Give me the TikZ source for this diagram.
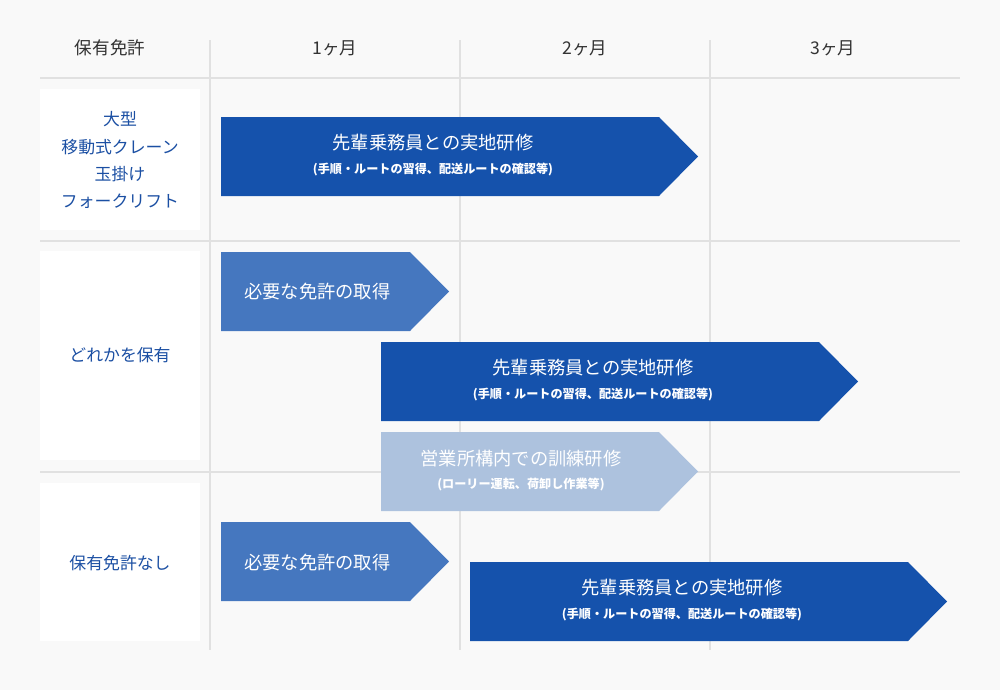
\documentclass[tikz,border=0pt]{standalone}
\usepackage{fontspec}
\setmainfont{Noto Sans CJK JP}
\definecolor{bgpaper}{HTML}{F9F9F9}
\definecolor{ruleline}{HTML}{E1E1E1}
\definecolor{navy}{HTML}{1552AC}
\definecolor{midblue}{HTML}{4577BF}
\definecolor{paleblue}{HTML}{ADC2DE}
\definecolor{labelblue}{HTML}{1B4FA3}
\definecolor{headgray}{HTML}{333333}
\tikzset{
  rule/.style={draw=ruleline, line width=0.6pt},
  licbox/.style={fill=white},
  headtext/.style={text=headgray, font=\fontsize{10}{12}\selectfont},
  lictext/.style={text=labelblue, align=center, font=\fontsize{9.6}{15.4}\selectfont},
  titletext/.style={text=white, font=\fontsize{10.4}{12}\selectfont},
  subtext/.style={text=white, font=\bfseries\fontsize{6.9}{8}\selectfont},
}
\begin{document}
\begin{tikzpicture}[x=0.02cm, y=-0.02cm]
            \fill[bgpaper] (0,0) rectangle (1000,690);
            \useasboundingbox (0,0) rectangle (1000,690);

            \draw[rule] (40,78) -- (960,78);
            \draw[rule] (40,241) -- (960,241);
            \draw[rule] (40,472) -- (960,472);
            \foreach \x in {210,460,710}
                \draw[rule] (\x,40) -- (\x,650);

            \node[headtext] (hlic) at (110,48) {保有免許};
            \node[headtext] (hm1) at (335,48) {1ヶ月};
            \node[headtext] (hm2) at (585,48) {2ヶ月};
            \node[headtext] (hm3) at (833,48) {3ヶ月};

            \fill[licbox] (40,89) rectangle (200,230);
            \fill[licbox] (40,251) rectangle (200,460);
            \fill[licbox] (40,483) rectangle (200,641);
            \node[lictext] (lic1) at (120,160) {大型\\移動式クレーン\\玉掛け\\フォークリフト};
            \node[lictext] (lic2) at (120,355) {どれかを保有};
            \node[lictext] (lic3) at (120,563) {保有免許なし};

            \fill[navy] (221,117) -- (659,117) -- (698,156.5) -- (659,196) -- (221,196) -- cycle;
            \node[titletext] (ojt1) at (433,143) {先輩乗務員との実地研修};
            \node[subtext] (ojt1sub) at (433,169) {(手順・ルートの習得、配送ルートの確認等)};

            \fill[midblue] (221,252) -- (410,252) -- (449,291.5) -- (410,331) -- (221,331) -- cycle;
            \node[titletext, anchor=west] (get2) at (238,292) {必要な免許の取得};

            \fill[navy] (381,342) -- (819,342) -- (858,381.5) -- (819,421) -- (381,421) -- cycle;
            \node[titletext] (ojt2) at (593,368) {先輩乗務員との実地研修};
            \node[subtext] (ojt2sub) at (593,394) {(手順・ルートの習得、配送ルートの確認等)};

            \fill[paleblue] (381,432) -- (659,432) -- (698,471.5) -- (659,511) -- (381,511) -- cycle;
            \node[titletext] (yard2) at (521,459) {営業所構内での訓練研修};
            \node[subtext] (yard2sub) at (521,484) {(ローリー運転、荷卸し作業等)};

            \fill[midblue] (221,522) -- (410,522) -- (449,561.5) -- (410,601) -- (221,601) -- cycle;
            \node[titletext, anchor=west] (get3) at (238,563) {必要な免許の取得};

            \fill[navy] (470,562) -- (908,562) -- (947,601.5) -- (908,641) -- (470,641) -- cycle;
            \node[titletext] (ojt3) at (682,588) {先輩乗務員との実地研修};
            \node[subtext] (ojt3sub) at (682,614) {(手順・ルートの習得、配送ルートの確認等)};
\end{tikzpicture}
\end{document}
